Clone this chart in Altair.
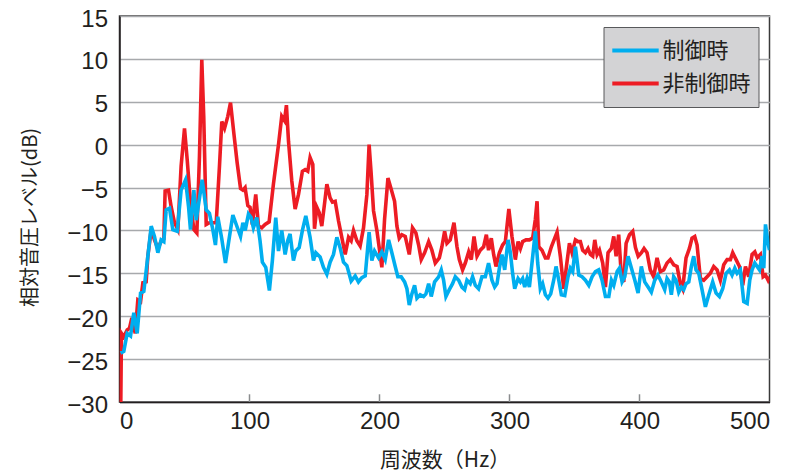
import altair as alt
import pandas as pd

# ---- data ----
series_names = ["制御時", "非制御時"]
series_colors = ["#00aeef", "#ed1c24"]

freq_ctrl = [0.8, 3.3, 5.9, 8.5, 11.0, 13.6, 16.2, 18.7, 21.8, 24.4, 26.9, 29.5, 32.0, 34.1, 35.9, 38.5,
             41.0, 44.4, 47.4, 50.8, 53.1, 54.6, 57.2, 59.0, 63.6, 66.7, 69.2, 71.8, 73.8, 75.6, 78.7,
             81.5, 84.6, 87.2, 90.5, 93.1, 94.9, 96.7, 99.2, 101.2, 103.0, 105.6, 108.1, 109.9, 112.5,
             115.3, 117.6, 120.2, 122.3, 124.8, 127.4, 129.4, 131.2, 133.8, 135.6, 138.2, 140.7, 143.3,
             146.6, 149.2, 151.0, 154.3, 156.9, 159.5, 162.0, 164.6, 167.2, 169.7, 172.3, 174.9, 178.2,
             181.3, 183.8, 186.4, 189.0, 192.0, 194.1, 196.2, 199.3, 201.8, 204.4, 207.0, 209.5, 212.1,
             214.1, 216.7, 219.3, 221.1, 222.9, 224.9, 227.0, 228.8, 231.3, 233.9, 235.7, 237.8, 239.8,
             242.4, 245.5, 247.5, 249.3, 251.1, 253.7, 256.2, 258.3, 260.9, 263.4, 265.5, 267.3, 269.8,
             271.6, 273.7, 276.2, 278.8, 281.4, 283.9, 286.5, 288.6, 290.4, 292.2, 294.2, 296.3, 298.9,
             300.6, 302.4, 304.0, 306.6, 308.4, 310.1, 311.7, 313.5, 315.3, 317.3, 319.9, 321.7, 323.7,
             325.5, 327.6, 329.6, 331.7, 334.0, 335.8, 337.9, 339.9, 342.5, 345.0, 346.8, 348.6, 350.7,
             353.3, 355.8, 358.4, 361.0, 363.5, 366.1, 368.6, 371.2, 373.8, 376.4, 378.4, 380.2, 382.8,
             384.6, 386.6, 388.7, 391.2, 393.8, 396.4, 398.9, 401.4, 404.0, 406.6, 409.1, 411.7, 414.2,
             416.8, 419.4, 421.2, 423.0, 424.5, 426.3, 428.1, 430.2, 432.2, 434.0, 435.8, 437.9, 439.9,
             441.7, 443.5, 445.6, 448.1, 450.7, 453.3, 456.3, 458.9, 461.5, 464.0, 466.6, 469.2, 471.2,
             473.3, 475.1, 477.6, 480.2, 482.8, 484.8, 486.6, 488.7, 490.5, 492.3, 494.3, 495.6, 496.9,
             498.9, 500.0]
level_ctrl = [-24.3, -24.1, -22.0, -22.3, -19.6, -22.0, -17.3, -17.1, -13.0, -9.5, -10.7, -12.6, -11.1,
              -11.3, -7.6, -7.4, -9.9, -10.1, -5.3, -4.1, -7.2, -9.9, -5.3, -8.8, -4.1, -7.6, -8.0, -9.9,
              -11.7, -8.4, -11.0, -13.8, -10.7, -8.2, -9.6, -10.7, -9.1, -10.0, -8.1, -8.5, -9.7, -8.5,
              -11.2, -13.7, -14.3, -17.0, -13.5, -8.5, -12.4, -10.0, -12.8, -11.2, -10.4, -13.5, -12.4,
              -12.0, -10.0, -8.3, -10.8, -13.5, -12.6, -13.1, -14.3, -15.1, -13.7, -12.8, -10.8, -12.0,
              -13.7, -14.1, -15.9, -15.3, -16.0, -15.5, -15.3, -10.2, -13.5, -12.4, -13.2, -12.5, -13.4,
              -11.1, -12.6, -14.2, -15.4, -15.4, -16.0, -16.8, -18.7, -17.4, -16.4, -17.9, -17.5, -17.7,
              -17.4, -16.2, -17.7, -16.0, -15.4, -14.6, -15.8, -17.7, -16.9, -16.2, -15.4, -15.8, -16.6,
              -16.9, -15.8, -16.2, -15.4, -16.4, -16.8, -15.4, -15.4, -13.8, -15.8, -16.6, -16.2, -14.4,
              -12.8, -14.6, -11.1, -12.5, -15.0, -16.8, -15.6, -16.0, -15.6, -16.6, -15.6, -16.6, -13.8,
              -10.1, -13.8, -16.8, -16.2, -17.5, -17.9, -17.4, -15.8, -14.2, -15.8, -17.5, -17.6, -15.4,
              -14.4, -14.8, -11.9, -15.2, -15.4, -15.8, -16.4, -15.4, -14.8, -14.6, -15.8, -17.7, -17.7,
              -15.8, -16.4, -14.8, -14.4, -16.0, -15.4, -13.0, -14.4, -15.8, -17.3, -14.2, -16.0, -16.6,
              -17.2, -15.8, -15.2, -16.0, -16.9, -15.6, -16.0, -17.5, -15.4, -15.8, -17.2, -16.6, -16.9,
              -16.2, -16.0, -14.2, -13.0, -14.6, -15.0, -16.9, -18.9, -17.5, -16.0, -17.3, -17.7, -16.8,
              -15.0, -14.6, -15.2, -14.4, -15.0, -14.6, -18.3, -18.5, -15.8, -14.6, -13.8, -14.2, -14.6,
              -13.0, -14.4, -9.3, -11.5, -12.3]

freq_nc = [1.0, 1.5, 3.3, 5.9, 7.7, 9.5, 12.1, 14.1, 16.2, 18.0, 20.5, 21.8, 24.4, 26.9, 29.5, 32.0,
           34.1, 35.1, 37.7, 39.7, 42.3, 44.9, 47.4, 50.0, 52.1, 54.6, 57.2, 59.5, 61.5, 63.3, 64.8,
           66.7, 69.2, 71.8, 74.4, 76.9, 78.7, 80.8, 83.3, 85.4, 87.9, 90.5, 93.1, 94.9, 96.6, 98.7,
           100.4, 102.2, 104.8, 106.9, 109.4, 112.0, 115.1, 118.4, 122.3, 124.8, 126.9, 128.4, 130.0,
           132.5, 135.1, 137.7, 140.7, 142.8, 144.8, 146.6, 148.7, 150.0, 151.8, 153.6, 155.6, 157.7,
           159.5, 162.0, 163.8, 165.9, 168.5, 171.0, 173.6, 176.2, 178.2, 180.0, 182.6, 185.1, 187.7,
           190.3, 192.0, 193.6, 195.4, 198.0, 200.5, 201.8, 203.9, 206.5, 209.0, 211.6, 213.4, 215.2,
           217.2, 219.8, 222.9, 225.4, 228.0, 230.1, 232.1, 234.7, 237.8, 240.3, 242.9, 246.0, 248.0,
           250.1, 251.9, 254.4, 257.3, 259.6, 261.4, 263.9, 266.0, 268.6, 270.6, 272.7, 275.0, 277.5,
           280.1, 282.2, 283.9, 286.0, 287.8, 289.6, 292.2, 294.7, 296.8, 299.5, 301.9, 304.5, 306.6,
           308.4, 310.1, 312.7, 315.3, 317.8, 319.9, 321.2, 322.5, 325.0, 327.6, 329.6, 332.2, 334.8,
           336.6, 339.1, 341.7, 344.3, 346.1, 348.1, 350.7, 352.7, 354.5, 356.3, 358.4, 360.4, 362.2,
           364.0, 365.6, 367.4, 369.2, 371.7, 373.8, 375.8, 378.4, 380.2, 382.0, 384.0, 386.1, 387.9,
           389.7, 392.3, 394.8, 396.9, 399.0, 401.5, 403.5, 405.8, 408.3, 410.9, 413.5, 416.0, 418.6,
           421.2, 423.7, 426.3, 428.9, 431.4, 433.2, 435.8, 438.4, 440.4, 442.5, 444.3, 446.8, 449.4,
           452.0, 454.5, 457.1, 459.7, 462.2, 464.8, 467.4, 469.9, 471.7, 474.3, 476.9, 479.4, 481.5,
           484.0, 486.6, 488.7, 490.5, 493.0, 495.1, 496.9, 498.9, 500.0]
level_nc = [-30.0, -22.0, -22.4, -21.6, -21.4, -20.2, -22.0, -18.1, -18.3, -16.1, -16.0, -13.0, -9.9,
            -11.1, -12.1, -11.3, -11.0, -5.4, -5.3, -7.2, -9.1, -9.9, -2.5, 1.9, -1.8, -6.8, -9.9, -10.3,
            -1.4, 9.9, 3.3, -9.3, -9.1, -9.1, -9.1, -2.5, 2.7, 1.9, 3.3, 4.9, 1.4, -2.1, -5.1, -5.3, -5.0,
            -7.1, -7.3, -9.3, -5.8, -9.5, -9.7, -9.3, -9.0, -4.6, 0.0, 3.3, 2.8, 4.6, 0.4, -4.2, -7.5,
            -5.8, -3.1, -2.9, -3.1, -1.5, -2.3, -9.8, -7.3, -7.9, -9.5, -6.9, -4.6, -6.2, -6.7, -6.6,
            -8.9, -10.8, -12.8, -10.8, -11.2, -10.0, -11.2, -11.8, -9.7, -5.8, 0.0, -3.4, -7.7, -10.0,
            -12.8, -14.3, -8.7, -3.9, -5.2, -6.6, -9.5, -10.9, -10.5, -10.7, -12.8, -9.7, -10.3, -11.7,
            -13.4, -12.6, -11.3, -12.3, -13.8, -13.2, -11.9, -10.1, -11.5, -11.1, -9.1, -11.9, -13.4,
            -14.6, -13.8, -12.5, -13.4, -10.7, -13.0, -12.3, -11.9, -10.5, -12.3, -10.9, -12.8, -14.2,
            -12.6, -11.7, -11.3, -7.5, -10.7, -13.4, -11.3, -12.1, -11.3, -11.1, -11.1, -10.9, -8.7,
            -6.6, -11.9, -12.3, -13.2, -13.2, -11.9, -10.9, -10.2, -13.0, -16.8, -13.6, -11.5, -12.6,
            -11.1, -11.3, -11.3, -12.3, -12.6, -12.1, -12.8, -13.0, -11.1, -12.8, -12.3, -13.8, -16.6,
            -12.6, -12.1, -10.7, -13.0, -10.5, -15.4, -16.0, -11.5, -10.5, -10.1, -12.0, -13.0, -12.6,
            -12.1, -12.6, -14.6, -15.4, -13.2, -14.8, -14.6, -13.8, -13.4, -14.0, -14.2, -16.2, -16.8,
            -13.2, -12.1, -10.9, -10.7, -11.7, -15.6, -15.8, -15.4, -15.0, -14.2, -14.6, -15.8, -14.0,
            -13.4, -13.4, -12.6, -13.4, -14.2, -16.4, -14.2, -15.4, -12.8, -12.5, -13.2, -12.8, -15.4,
            -15.2, -15.8, -15.4]

x_ticks = [0, 100, 200, 300, 400, 500]
inner_ticks = [100, 200, 300, 400]
y_ticks = [-30, -25, -20, -15, -10, -5, 0, 5, 10, 15]

x_title = "周波数（Hz）"
y_title = "相対音圧レベル(dB)"

# ---- chart ----
W, H = 650, 386
df_c = pd.DataFrame({"f": freq_ctrl, "v": level_ctrl, "s": series_names[0]})
df_n = pd.DataFrame({"f": freq_nc, "v": level_nc, "s": series_names[1]})
df_t = pd.DataFrame({"f": inner_ticks})

LAT = "Liberation Sans"
CJK = "Noto Sans CJK JP"
INK = "#231f20"

xenc = alt.X("f:Q", scale=alt.Scale(domain=[0, 500], nice=False),
             axis=alt.Axis(values=x_ticks, title=x_title, grid=False, ticks=False,
                           labelPadding=7, titleBaseline="middle", titleY=58,
                           titleFontSize=21))
yenc = alt.Y("v:Q", scale=alt.Scale(domain=[-30, 15], nice=False),
             axis=alt.Axis(values=y_ticks, title=y_title, grid=True, ticks=False,
                           labelPadding=12, labelOffset=3, titleBaseline="middle",
                           titleX=-89, titleY=201, titleFontSize=20))
color = alt.Color("s:N", scale=alt.Scale(domain=series_names, range=series_colors),
                  legend=alt.Legend(title=None, orient="none", legendX=484, legendY=11,
                                    direction="vertical", symbolType="M-1.45,0H1.45",
                                    symbolSize=1024, symbolStrokeWidth=4, symbolOffset=7,
                                    clipHeight=33,
                                    labelFont=CJK, labelFontSize=22, labelColor=INK,
                                    labelOffset=9, rowPadding=0, padding=7,
                                    fillColor="#d3d3d5", strokeColor="#58595b"))

red = alt.Chart(df_n).mark_line(strokeWidth=3.6, clip=True).encode(x=xenc, y=yenc, color=color)
blue = alt.Chart(df_c).mark_line(strokeWidth=3.6, clip=True).encode(x=xenc, y=yenc, color=color)
ticks = alt.Chart(df_t).mark_rule(color="#8a8c8e", strokeWidth=1.5).encode(
    x=alt.X("f:Q"), y=alt.datum(-30), y2=alt.datum(-29.1))

chart = alt.layer(ticks, red, blue).properties(
    width=W, height=H,
    autosize=alt.AutoSizeParams(type="none"),
    padding={"left": 111.5, "top": 8, "right": 14, "bottom": 70},
).configure_view(
    stroke="#3a3a3a", strokeWidth=1.5
).configure_axis(
    labelFont=LAT, labelFontSize=24, labelColor=INK,
    titleFont=CJK, titleFontWeight="normal", titleColor=INK,
    domainColor=INK, domainWidth=1.5,
    gridColor="#a7a9ac", gridWidth=1.5,
)

chart.save("out.html", embed_options={"renderer": "svg", "actions": False})
